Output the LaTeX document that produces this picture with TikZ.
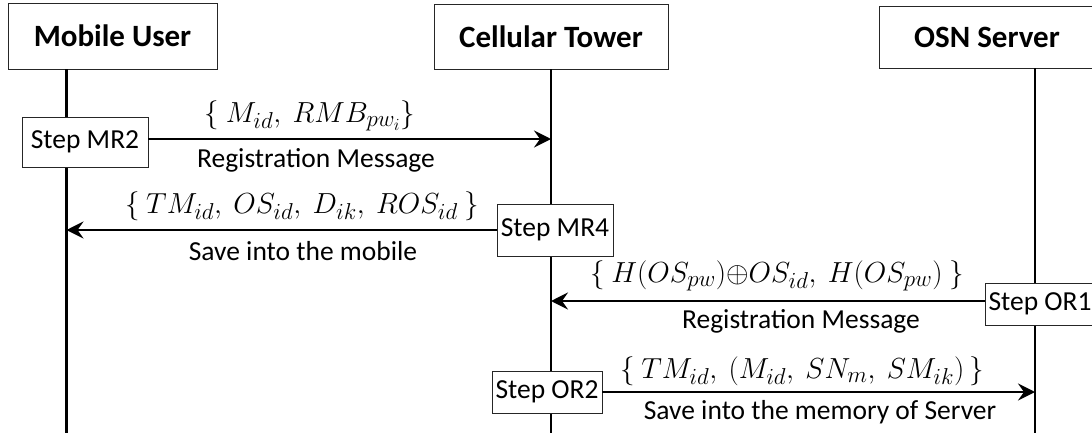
\documentclass[tikz,border=0pt]{standalone}
\usepackage{fix-cm}
\usepackage[no-math]{fontspec}
\setmainfont{Carlito}
\DeclareMathSizes{29}{29}{23}{17}
\usetikzlibrary{arrows.meta}

\newcommand{\msgmath}{\fontsize{29}{35}\selectfont}

\begin{document}
\begin{tikzpicture}[x=1pt,y=-1pt,
  actor/.style={draw=black!85, line width=0.9pt, fill=white,
    font=\fontsize{31}{37}\selectfont\bfseries, inner sep=0pt},
  stepbox/.style={draw=black!85, line width=0.9pt, fill=white,
    font=\fontsize{27.5}{33}\selectfont, inner sep=0pt},
  lifeline/.style={line width=2.8pt, black},
  msg/.style={line width=2.4pt, black,
    -{Stealth[length=17pt, width=17pt, inset=6pt]}},
  mathlabel/.style={font=\msgmath, inner sep=0pt},
  textlabel/.style={font=\fontsize{27.5}{33}\selectfont, inner sep=0pt}
]
\useasboundingbox (0,0) rectangle (1092,439);

% participants
\node[actor, minimum width=209pt, minimum height=66pt] (mu)  at (112.5,36) {Mobile User};
\node[actor, minimum width=234pt, minimum height=65pt] (ct)  at (551,36.5) {Cellular Tower};
\node[actor, minimum width=216pt, minimum height=62pt] (osn) at (987,37)   {OSN Server};

% lifeline ends
\coordinate (mul) at (66.5,433);
\coordinate (ctl) at (551,433);
\coordinate (osl) at (1035,433);

\draw[lifeline] (mul |- mu.south) -- (mul);
\draw[lifeline] (ctl |- ct.south) -- (ctl);
\draw[lifeline] (osl |- osn.south) -- (osl);

% protocol steps
\node[stepbox, minimum width=126pt, minimum height=50pt] (mr2) at (85,142)    {Step MR2};
\node[stepbox, minimum width=116pt, minimum height=52pt] (mr4) at (555,230)   {Step MR4};
\node[stepbox, minimum width=110pt, minimum height=42pt] (or1) at (1040,304)  {Step OR1};
\node[stepbox, minimum width=110pt, minimum height=42pt] (or2) at (547,392)   {Step OR2};

% messages
\draw[msg] ([yshift=3pt]mr2.east) -- ([yshift=3pt]mr2.east -| ctl);
\draw[msg] (mr4.west) -- (mr4.west -| mul);
\draw[msg] ([yshift=3pt]or1.west) -- ([yshift=3pt]or1.west -| ctl);
\draw[msg] (or2.east) -- (or2.east -| osl);

% message contents
\node[mathlabel] (m1) at (310,116) {$\{\ M_{id},\ RMB_{pw_i}\}$};
\node[textlabel] (t1) at (316,160) {Registration Message};

\node[mathlabel] (m2) at (302,206) {$\{\ TM_{id},\ OS_{id},\ D_{ik},\ ROS_{id}\ \}$};
\node[textlabel] (t2) at (303,251) {Save into the mobile};

\node[mathlabel] (m3) at (777,276) {$\{\ H\mathit{(}OS_{pw}\mathit{)}{\oplus}OS_{id},\ H(OS_{pw})\ \}$};
\node[textlabel] (t3) at (801,321) {Registration Message};

\node[mathlabel] (m4) at (802,371) {$\{\ TM_{id},\ (M_{id},\ SN_{m},\ SM_{ik})\,\}$};
\node[textlabel] (t4) at (820,412) {Save into the memory of Server};
\end{tikzpicture}
\end{document}
